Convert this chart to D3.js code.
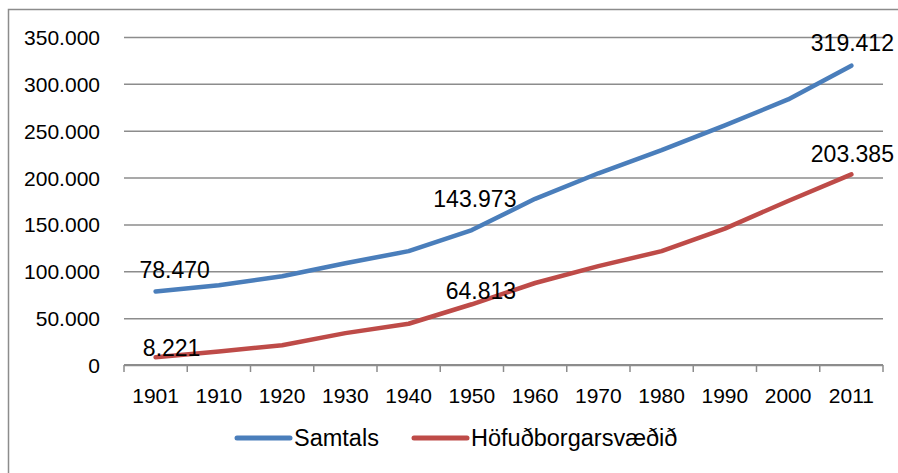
<!DOCTYPE html>
<html>
<head>
<meta charset="utf-8">
<script src="https://cdn.jsdelivr.net/npm/d3@7"></script>
<style>
  body { margin: 0; background: #fff; }
  text { font-family: "Liberation Sans", Arial, sans-serif; fill: #000; }
</style>
</head>
<body>
<div id="chart"></div>
<script>
// years on the x axis
var years = ["1901","1910","1920","1930","1940","1950","1960","1970","1980","1990","2000","2011"];
// population, whole country
var samtals = [78470, 85183, 94690, 108629, 121474, 143973, 177292, 204578, 229187, 255708, 283361, 319412];
// population, capital region
var hofud = [8221, 14500, 21000, 34000, 44000, 64813, 87500, 105500, 121500, 145500, 175000, 203385];
var yTicks = [0, 50000, 100000, 150000, 200000, 250000, 300000, 350000];
// which points carry a value label (index into the arrays)
var samtalsLabels = [0, 5, 11];
var hofudLabels = [0, 5, 11];

const width = 898;
const height = 473;
const plot = {left: 124, right: 883, top: 37, bottom: 365};

var fmt = d3.formatLocale({decimal: ",", thousands: ".", grouping: [3], currency: ["", ""]}).format(",d");

var svg = d3.select("#chart")
  .append("svg")
  .attr("width", width)
  .attr("height", height);

// chart area frame (only left/top edges are inside the picture)
svg.append("path")
  .attr("d", `M8.5,${height + 5}V9.5H${width + 5}`)
  .attr("fill", "none")
  .attr("stroke", "#8c8c8c")
  .attr("stroke-width", 1.5);

var xScale = d3.scaleBand()
  .domain(years)
  .range([plot.left, plot.right]);

var yScale = d3.scaleLinear()
  .domain([0, 350000])
  .range([plot.bottom, plot.top]);

var xMid = d => xScale(d) + xScale.bandwidth() / 2;

// horizontal gridlines + y labels
var yAxis = d3.axisLeft(yScale)
  .tickValues(yTicks)
  .tickSize(-(plot.right - plot.left))
  .tickPadding(24)
  .tickFormat(d => d === 0 ? "0" : fmt(d));

var gy = svg.append("g")
  .attr("transform", `translate(${plot.left}, 0)`)
  .call(yAxis);
gy.select(".domain").remove();
gy.selectAll("line").attr("stroke", "#8c8c8c").attr("stroke-width", 1.5);
gy.selectAll("text").style("font-size", "21px").attr("dy", "0.36em");

// x axis: ticks between categories
var gx = svg.append("g")
  .attr("transform", `translate(0, ${plot.bottom})`);
gx.append("line")
  .attr("x1", plot.left).attr("x2", plot.right)
  .attr("stroke", "#8c8c8c").attr("stroke-width", 2);
var edges = years.map(d => xScale(d)).concat([plot.right]);
gx.selectAll(".tk")
  .data(edges)
  .enter().append("line")
  .attr("x1", d => d).attr("x2", d => d)
  .attr("y1", 0).attr("y2", 7)
  .attr("stroke", "#8c8c8c").attr("stroke-width", 1.5);
gx.selectAll(".lbl")
  .data(years)
  .enter().append("text")
  .attr("x", d => xMid(d))
  .attr("y", 38)
  .attr("text-anchor", "middle")
  .style("font-size", "21px")
  .text(d => d);

var line = d3.line()
  .x((d, i) => xMid(years[i]))
  .y(d => yScale(d));

var series = [
  {name: "Samtals", values: samtals, color: "#4a7ebb", labels: samtalsLabels, off: [[19, -13], [3, -23], [1, -15]]},
  {name: "Höfuðborgarsvæðið", values: hofud, color: "#be4b48", labels: hofudLabels, off: [[16, -1], [9, -5], [1, -12]]}
];

series.forEach(function(s) {
  svg.append("path")
    .datum(s.values)
    .attr("d", line)
    .attr("fill", "none")
    .attr("stroke", s.color)
    .attr("stroke-width", 4.5)
    .attr("stroke-linejoin", "round")
    .attr("stroke-linecap", "round");
});

// data labels
series.forEach(function(s) {
  svg.selectAll(null)
    .data(s.labels)
    .enter().append("text")
    .attr("x", (i, k) => xMid(years[i]) + s.off[k][0])
    .attr("y", (i, k) => yScale(s.values[i]) + s.off[k][1])
    .attr("text-anchor", "middle")
    .style("font-size", "23px")
    .text(i => fmt(s.values[i]));
});

// legend
var legend = svg.append("g").attr("transform", "translate(0, 438)");
var legX = [237, 414];
series.forEach(function(s, i) {
  legend.append("line")
    .attr("x1", legX[i]).attr("x2", legX[i] + 53)
    .attr("stroke", s.color)
    .attr("stroke-width", 5)
    .attr("stroke-linecap", "round");
  legend.append("text")
    .attr("x", legX[i] + 57)
    .attr("y", 8)
    .style("font-size", "23.5px")
    .text(s.name);
});
</script>
</body>
</html>
